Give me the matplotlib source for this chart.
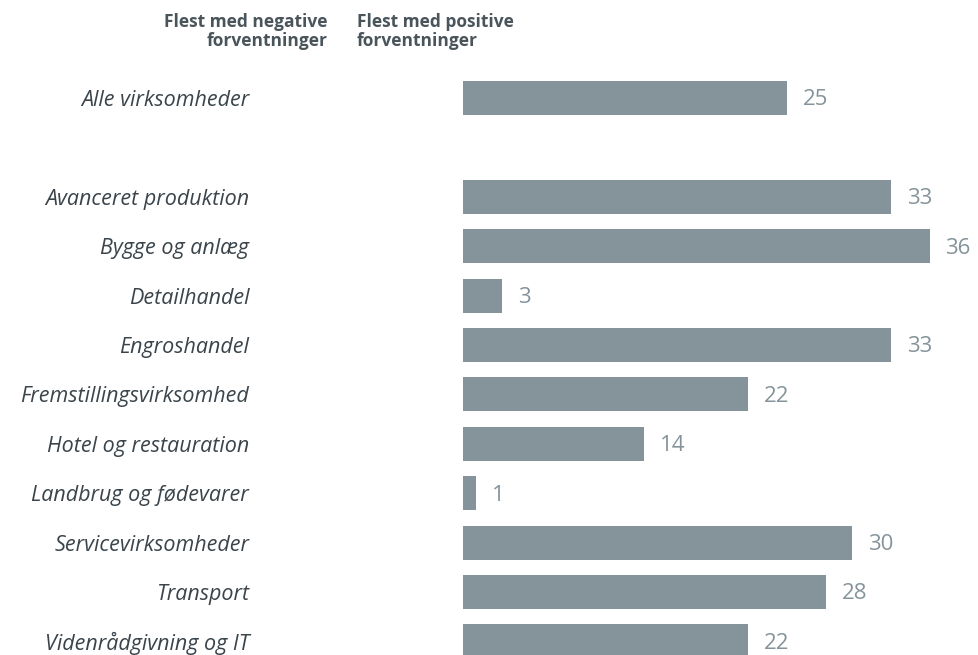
import matplotlib

matplotlib.use("Agg")
import matplotlib.pyplot as plt

categories = [
    "Alle virksomheder",
    "",
    "Avanceret produktion",
    "Bygge og anlæg",
    "Detailhandel",
    "Engroshandel",
    "Fremstillingsvirksomhed",
    "Hotel og restauration",
    "Landbrug og fødevarer",
    "Servicevirksomheder",
    "Transport",
    "Videnrådgivning og IT",
]
values = [25, None, 33, 36, 3, 33, 22, 14, 1, 30, 28, 22]

BAR = "#85939a"
TEXT = "#3a444a"
HEAD = "#4a555b"

plt.rcParams["font.family"] = ["Open Sans", "DejaVu Sans"]

fig = plt.figure(figsize=(9.79, 6.55), dpi=100)
# zero line sits at x=463px; rows are ~49.4px apart, first row at y=98px
ax = fig.add_axes([463 / 979, 0, 516 / 979, 1])

pos = [i for i, v in enumerate(values) if v is not None]
vals = [v for v in values if v is not None]
ax.barh(pos, vals, height=0.69, color=BAR)
for p, v in zip(pos, vals):
    ax.text(v + 1.23, p + 0.04, str(v), va="center", ha="left", fontsize=16, color=BAR)

ax.set_xlim(0, 516 / 12.96)
ax.set_ylim(557 / 49.4, -98 / 49.4)
ax.set_yticks(range(len(categories)))
ax.set_yticklabels(categories, fontsize=15.5, style="italic", color=TEXT)
ax.tick_params(axis="y", length=0, pad=154)
ax.set_xticks([])
for s in ax.spines.values():
    s.set_visible(False)

fig.text(328 / 979, 1 - 13 / 655, "Flest med negative\nforventninger", ha="right", va="top",
         fontsize=12.5, fontweight="bold", color=HEAD, linespacing=1.1)
fig.text(357 / 979, 1 - 13 / 655, "Flest med positive\nforventninger", ha="left", va="top",
         fontsize=12.5, fontweight="bold", color=HEAD, linespacing=1.1)

fig.savefig("out.png", dpi=100)
